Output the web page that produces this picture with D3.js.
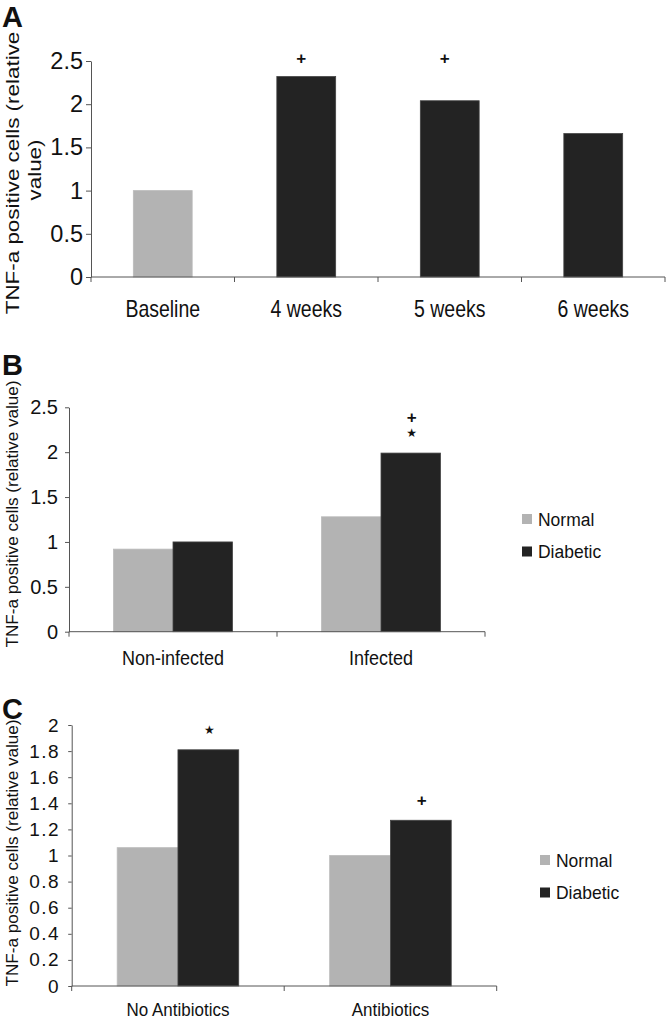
<!DOCTYPE html>
<html>
<head>
<meta charset="utf-8">
<script src="https://cdnjs.cloudflare.com/ajax/libs/d3/7.8.5/d3.min.js"></script>
<style>
  body { margin: 0; background: #fff; }
  text { font-family: "Liberation Sans", Arial, sans-serif; fill: #111; }
  .axis path, .axis line { stroke: #555; }
</style>
</head>
<body>
<script>
// ---- data ----
var aCategories = ["Baseline", "4 weeks", "5 weeks", "6 weeks"];
var aValues = [1.0, 2.32, 2.04, 1.66];
var aMarks = ["", "+", "+", ""];
var aTicks = [0, 0.5, 1, 1.5, 2, 2.5];

var seriesNames = ["Normal", "Diabetic"];

var bCategories = ["Non-infected", "Infected"];
var bNormal = [0.92, 1.28];
var bDiabetic = [1.0, 1.99];
var bMarks = [[], ["+", "★"]];
var bTicks = [0, 0.5, 1, 1.5, 2, 2.5];

var cCategories = ["No Antibiotics", "Antibiotics"];
var cNormal = [1.06, 1.0];
var cDiabetic = [1.81, 1.27];
var cMarks = [["★"], ["+"]];
var cTicks = [0, 0.2, 0.4, 0.6, 0.8, 1, 1.2, 1.4, 1.6, 1.8, 2];

var yTitle = "TNF-a positive cells (relative value)";

var light = "#b3b3b3", dark = "#232323";

var svg = d3.select("body").append("svg")
    .attr("width", 666).attr("height", 1019);

// text placed with a small vertical stretch, like the scanned figure
function putText(g, str, x, y, size, sy, rotate) {
    return g.append("text")
        .attr("transform", "translate(" + x + "," + y + ") scale(1," + sy + ")" + (rotate ? " rotate(-90)" : ""))
        .style("font-size", size + "px")
        .text(str);
}

function markText(g, sym, x, y) {
    var t = g.append("text")
        .attr("x", x).attr("y", y)
        .attr("text-anchor", "middle")
        .attr("dominant-baseline", "central")
        .text(sym);
    if (sym == "+") t.style("font-size", "17px").style("font-weight", "bold");
    else t.style("font-size", "12px").style("font-family", "DejaVu Sans");
    return t;
}

function drawAxes(p) {
    var g = p.g;
    var yAxis = d3.axisLeft(p.y).tickValues(p.ticks).tickSize(p.tickLen).tickSizeOuter(0)
        .tickPadding(p.tickPad).tickFormat(function(d) { return String(d); });
    var ga = g.append("g").attr("class", "axis")
        .attr("transform", "translate(" + p.x.range()[0] + ",0)")
        .call(yAxis);
    ga.selectAll("text").style("font-size", p.tickFont + "px")
        .style("letter-spacing", p.tickSpacing || 0);

    var y0 = p.y(0);
    var xr = p.x.range();
    g.append("line").attr("class", "axis")
        .attr("x1", xr[0]).attr("x2", xr[1]).attr("y1", y0).attr("y2", y0)
        .style("stroke", "#555");
    var bounds = p.x.domain().map(function(c) { return p.x(c); }).concat([xr[1]]);
    g.selectAll(".xtick").data(bounds).enter().append("line")
        .attr("x1", function(d) { return d; }).attr("x2", function(d) { return d; })
        .attr("y1", y0).attr("y2", y0 + 5)
        .style("stroke", "#555");

    p.x.domain().forEach(function(c) {
        putText(g, c, p.x(c) + p.x.bandwidth() / 2, y0 + p.labelOff, p.labelFont, p.labelSy)
            .attr("text-anchor", "middle");
    });
}

function drawLegend(g, lx, ly) {
    var colors = [light, dark];
    seriesNames.forEach(function(s, i) {
        var cy = ly + i * 32.5;
        g.append("rect").attr("x", lx).attr("y", cy - 5).attr("width", 10).attr("height", 10)
            .attr("fill", colors[i]);
        putText(g, s, lx + 16, cy, 17.5, 1.1, false).attr("dominant-baseline", "central");
    });
}

// ---- panel A ----
(function() {
    var g = svg.append("g");
    var y = d3.scaleLinear().domain([0, 2.5]).range([277, 61]);
    var x = d3.scaleBand().domain(aCategories).range([91, 665]);
    var bw = x.bandwidth() * 0.41;

    g.selectAll(".bar").data(aCategories).enter().append("rect")
        .attr("x", function(d) { return x(d) + (x.bandwidth() - bw) / 2; })
        .attr("y", function(d, i) { return y(aValues[i]); })
        .attr("width", bw)
        .attr("height", function(d, i) { return y(0) - y(aValues[i]); })
        .attr("fill", function(d, i) { return i == 0 ? light : dark; })
        .attr("stroke", function(d, i) { return i == 0 ? "#bbb" : "#444"; })
        .attr("stroke-width", 0.8);

    aCategories.forEach(function(c, i) {
        if (aMarks[i]) markText(g, aMarks[i], x(c) + x.bandwidth() / 2 - 5, y(2.5) - 3);
    });

    drawAxes({ g: g, x: x, y: y, ticks: aTicks, tickLen: 5, tickPad: 3, tickFont: 23.5,
               labelOff: 40, labelFont: 19.5, labelSy: 1.2 });

    putText(g, "TNF-a positive cells (relative", 12.5, 173, 19, 1.18, true)
        .attr("text-anchor", "middle").attr("dominant-baseline", "central");
    putText(g, "value)", 34.5, 170, 19, 1.18, true)
        .attr("text-anchor", "middle").attr("dominant-baseline", "central");

    g.append("text").attr("x", 2).attr("y", 27)
        .style("font-size", "29px").style("font-weight", "bold").text("A");
})();

// grouped panels B and C
function groupedPanel(cats, normal, diabetic, marks, ticks, opt) {
    var g = svg.append("g");
    var y = d3.scaleLinear().domain([0, ticks[ticks.length - 1]]).range(opt.yRange);
    var x = d3.scaleBand().domain(cats).range(opt.xRange);
    var sub = d3.scaleBand().domain(seriesNames).range([0, x.bandwidth() * 0.572]);
    var off = (x.bandwidth() - x.bandwidth() * 0.572) / 2;
    var rows = [];
    cats.forEach(function(c, i) {
        rows.push({ c: c, s: "Normal", v: normal[i], fill: light, stroke: "#bbb" });
        rows.push({ c: c, s: "Diabetic", v: diabetic[i], fill: dark, stroke: "#444", marks: marks[i] });
    });

    g.selectAll(".bar").data(rows).enter().append("rect")
        .attr("x", function(d) { return x(d.c) + off + sub(d.s); })
        .attr("y", function(d) { return y(d.v); })
        .attr("width", sub.bandwidth())
        .attr("height", function(d) { return y(0) - y(d.v); })
        .attr("fill", function(d) { return d.fill; })
        .attr("stroke", function(d) { return d.stroke; })
        .attr("stroke-width", 0.8);

    rows.forEach(function(d) {
        if (!d.marks) return;
        var n = d.marks.length;
        d.marks.forEach(function(m, k) {
            markText(g, m, x(d.c) + off + sub(d.s) + sub.bandwidth() / 2 + 1, y(d.v) - 20 - (n - 1 - k) * 16);
        });
    });

    drawAxes({ g: g, x: x, y: y, ticks: ticks, tickLen: opt.tickLen, tickPad: opt.tickPad,
               tickFont: opt.tickFont, tickSpacing: opt.tickSpacing,
               labelOff: opt.labelOff, labelFont: opt.labelFont, labelSy: opt.labelSy });

    putText(g, yTitle, 13, opt.titleY, 16, 1.07, true)
        .attr("text-anchor", "middle").attr("dominant-baseline", "central");

    drawLegend(g, opt.legendX, opt.legendY);

    g.append("text").attr("x", 2).attr("y", opt.letterY)
        .style("font-size", "29px").style("font-weight", "bold").text(opt.letter);
}

groupedPanel(bCategories, bNormal, bDiabetic, bMarks, bTicks, {
    yRange: [631.7, 407.3], xRange: [69, 485], tickLen: 4, tickPad: 7, tickFont: 20,
    labelOff: 33, labelFont: 18, labelSy: 1.1, titleY: 514,
    legendX: 522, legendY: 519, letter: "B", letterY: 375
});

groupedPanel(cCategories, cNormal, cDiabetic, cMarks, cTicks, {
    yRange: [986, 725], xRange: [71.7, 496.7], tickLen: 3.5, tickPad: 8, tickFont: 19,
    tickSpacing: "1.5px",
    labelOff: 30, labelFont: 17, labelSy: 1.12, titleY: 853,
    legendX: 540, legendY: 860, letter: "C", letterY: 719
});
</script>
</body>
</html>
